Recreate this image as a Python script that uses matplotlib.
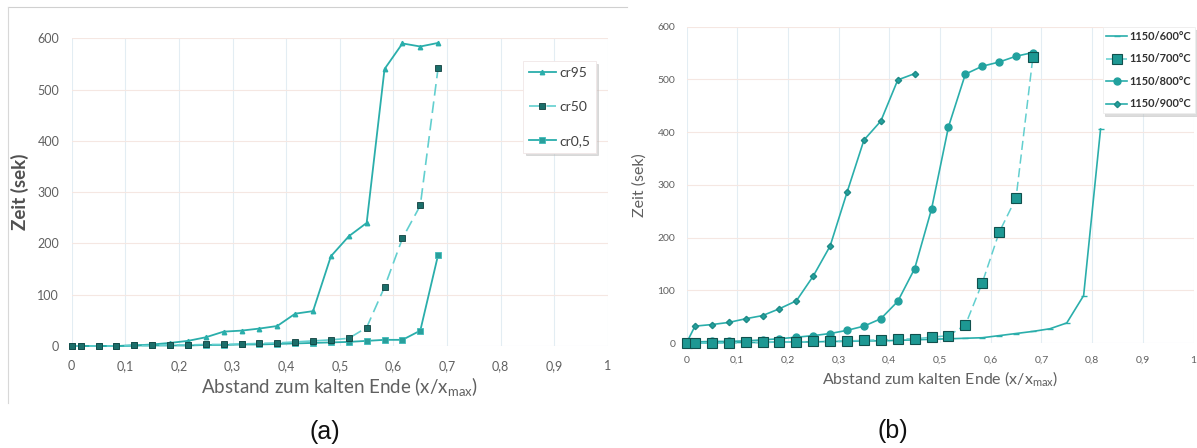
import matplotlib
matplotlib.use("Agg")
import matplotlib.pyplot as plt
from matplotlib.lines import Line2D

# ---------------- data ----------------
x_a = [0, 0.0167, 0.05, 0.0833, 0.1167, 0.15, 0.1833, 0.2167, 0.25, 0.2833, 0.3167,
       0.35, 0.3833, 0.4167, 0.45, 0.4833, 0.5167, 0.55, 0.5833, 0.6167, 0.65, 0.6833]
cr95 = [0, 0, 0, 0, 1, 3, 6, 10, 17, 28, 30, 34, 39, 63, 68, 175, 214, 240, 540, 590, 584, 591]
cr50 = [0, 0, 0, 0, 1, 1, 2, 2, 3, 3, 4, 5, 6, 8, 10, 12, 15, 36, 115, 210, 274, 543]
cr05 = [0, 0, 0, 0, 1, 1, 1, 1, 2, 2, 3, 3, 4, 5, 6, 7, 8, 10, 12, 12, 30, 178]
labels_a = ["cr95", "cr50", "cr0,5"]

x_b600 = [0, 0.0167, 0.05, 0.0833, 0.1167, 0.15, 0.1833, 0.2167, 0.25, 0.2833, 0.3167,
          0.35, 0.3833, 0.4167, 0.45, 0.4833, 0.5167, 0.55, 0.5833, 0.6167, 0.65, 0.6833,
          0.7167, 0.75, 0.7833, 0.8167]
t600 = [0, 0, 0, 1, 1, 1, 2, 2, 2, 3, 3, 4, 4, 5, 6, 7, 8, 9, 10, 14, 18, 22, 27, 38, 90, 406]
x_b700 = x_a
t700 = [0, 0, 0, 0, 1, 1, 2, 2, 3, 3, 4, 5, 6, 7, 8, 11, 14, 34, 114, 210, 275, 543]
x_b800 = x_a
t800 = [2, 2, 3, 3, 4, 6, 8, 11, 14, 18, 24, 32, 46, 79, 141, 254, 410, 510, 525, 533, 544, 551]
x_b900 = x_a[:15]
t900 = [0, 32, 35, 39, 46, 52, 65, 80, 127, 184, 286, 385, 421, 499, 511]
labels_b = ["1150/600°C", "1150/700°C", "1150/800°C", "1150/900°C"]

xticks = [0, 0.1, 0.2, 0.3, 0.4, 0.5, 0.6, 0.7, 0.8, 0.9, 1]
xticklabels = ["0", "0,1", "0,2", "0,3", "0,4", "0,5", "0,6", "0,7", "0,8", "0,9", "1"]
yticks = [0, 100, 200, 300, 400, 500, 600]

# ---------------- style ----------------
plt.rcParams['font.family'] = ['Lato', 'DejaVu Sans']
TEAL = '#2aaeab'
LIGHT = '#62cfcf'
DARK = '#1b6e6a'
GRAY = '#606060'

W, H = 1197, 448
fig = plt.figure(figsize=(W / 100, H / 100), dpi=100)


def px_axes(x0, x1, y_top, y_bot):
    return fig.add_axes([x0 / W, 1 - y_bot / H, (x1 - x0) / W, (y_bot - y_top) / H])


def style_axes(ax, fs, xpad, ypad):
    ax.set_xlim(0, 1)
    ax.set_ylim(0, 600)
    ax.set_xticks(xticks)
    ax.set_xticklabels(xticklabels)
    ax.set_yticks(yticks)
    for s in ax.spines.values():
        s.set_visible(False)
    ax.tick_params(length=0, labelsize=fs, colors=GRAY)
    ax.tick_params(axis='x', pad=xpad)
    ax.tick_params(axis='y', pad=ypad)
    for x in xticks:
        ax.axvline(x, color='#e3edf3', lw=0.8, zorder=0)
    for y in yticks:
        ax.axhline(y, color='#f5e7e2' if y > 0 else '#e3e9ef', lw=0.8, zorder=0)


# chart-area frame for (a)
fig.add_artist(Line2D([8 / W, 627 / W], [1 - 7 / H, 1 - 7 / H], color='#d0d0d0', lw=0.8))
fig.add_artist(Line2D([8 / W, 8 / W], [1 - 7 / H, 1 - 403 / H], color='#d8d8d8', lw=0.8))

# ---------------- panel (a) ----------------
axa = px_axes(71.7, 608, 38.3, 346)
style_axes(axa, 9, 10, 9)
axa.plot(x_a, cr95, color=TEAL, lw=1.3, marker='^', ms=3.2, mfc=TEAL, mec=TEAL,
         label=labels_a[0], clip_on=False, zorder=3)
axa.plot(x_a, cr50, color=LIGHT, lw=1.2, ls=(0, (7, 3.5)), marker='s', ms=4.5,
         mfc=DARK, mec='#10403e', mew=0.6, label=labels_a[1], clip_on=False, zorder=4)
axa.plot(x_a, cr05, color=TEAL, lw=1.3, marker='s', ms=4, mfc='#2a9f9c', mec='#3fbdbb',
         mew=0.6, label=labels_a[2], clip_on=False, zorder=3)
axa.set_xlabel("Abstand zum kalten Ende (x/x$_{\\mathregular{max}}$)", fontsize=13.5,
               color=GRAY, labelpad=3)
axa.set_ylabel("Zeit (sek)", fontsize=13.5, color='#505050', fontweight='bold', labelpad=6)
lega = axa.legend(loc='upper left', bbox_to_anchor=(523 / W, 1 - 61 / H),
                  bbox_transform=fig.transFigure, fontsize=10, frameon=True,
                  fancybox=False, shadow={'ox': 2, 'oy': -2, 'color': '#bbbbbb'},
                  handlelength=2.0, labelspacing=1.6, borderpad=0.4, handletextpad=0.2,
                  borderaxespad=0)
lega.get_frame().set_edgecolor('#f0e6e6')
lega.get_frame().set_linewidth(0.6)
for t in lega.get_texts():
    t.set_color('#404040')

# ---------------- panel (b) ----------------
axb = px_axes(686.5, 1193.5, 26.7, 343)
style_axes(axb, 7.5, 9, 8)
axb.plot(x_b600, t600, color=TEAL, lw=1.2, marker='_', ms=5, mec=TEAL,
         label=labels_b[0], clip_on=False, zorder=3)
axb.plot(x_b700, t700, color=LIGHT, lw=1.1, ls=(0, (6, 3)), marker='s', ms=6.5,
         mfc='#1d9893', mec='#10504d', mew=0.8, label=labels_b[1], clip_on=False, zorder=4)
axb.plot(x_b800, t800, color=TEAL, lw=1.2, marker='o', ms=5, mfc='#22a19e', mec='#22a19e',
         label=labels_b[2], clip_on=False, zorder=3)
axb.plot(x_b900, t900, color=TEAL, lw=1.2, marker='D', ms=3.2, mfc='#22a19e', mec='#1f8a86',
         label=labels_b[3], clip_on=False, zorder=3)
axb.set_xlabel("Abstand zum kalten Ende (x/x$_{\\mathregular{max}}$)", fontsize=11.5,
               color=GRAY, labelpad=4)
axb.set_ylabel("Zeit (sek)", fontsize=11.5, color=GRAY, labelpad=8)
legb = axb.legend(loc='upper right', bbox_to_anchor=(1195 / W, 1 - 27 / H),
                  bbox_transform=fig.transFigure, fontsize=7.9, frameon=True,
                  fancybox=False, shadow={'ox': 2, 'oy': -2, 'color': '#bbbbbb'},
                  handlelength=1.9, labelspacing=1.05, borderpad=0.35, handletextpad=0.2,
                  borderaxespad=0)
legb.get_frame().set_edgecolor('#eeeeee')
legb.get_frame().set_linewidth(0.6)
for t in legb.get_texts():
    t.set_color('#303030')
    t.set_fontweight('bold')

# ---------------- captions ----------------
fig.text(325 / W, 1 - 432 / H, "(a)", fontsize=18, family='Liberation Sans',
         ha='center', va='center', color='#111111')
fig.text(893 / W, 1 - 431 / H, "(b)", fontsize=18, family='Liberation Sans',
         ha='center', va='center', color='#111111')

fig.savefig("out.png", dpi=100)
